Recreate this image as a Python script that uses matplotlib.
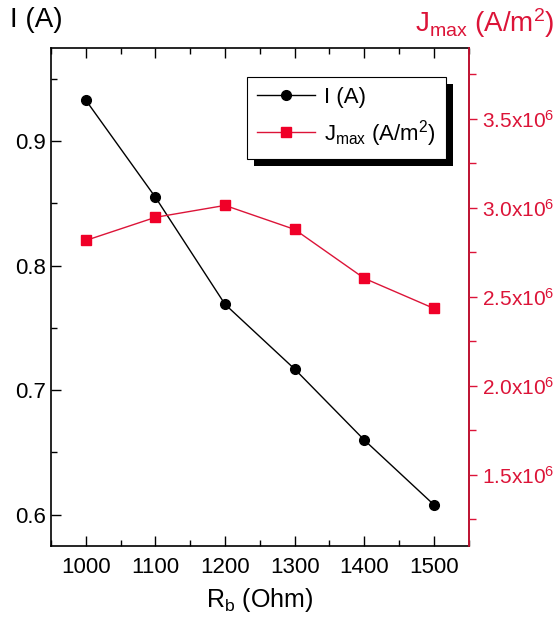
import matplotlib
matplotlib.use('Agg')
import matplotlib.pyplot as plt
from matplotlib.ticker import MultipleLocator, FuncFormatter
import matplotlib.patheffects as pe

plt.rcParams['font.family'] = ['Liberation Sans', 'DejaVu Sans']
plt.rcParams['mathtext.fontset'] = 'custom'
plt.rcParams['mathtext.rm'] = 'Liberation Sans'
plt.rcParams['mathtext.it'] = 'Liberation Sans'

rb = [1000, 1100, 1200, 1300, 1400, 1500]
current = [0.933, 0.855, 0.769, 0.717, 0.660, 0.608]
jmax = [2.817e6, 2.947e6, 3.014e6, 2.879e6, 2.604e6, 2.435e6]

red = '#dc1438'

fig = plt.figure(figsize=(5.6, 6.21), dpi=100)
ax = fig.add_axes([0.091, 0.121, 0.746, 0.802])
ax2 = ax.twinx()

l1, = ax.plot(rb, current, '-o', color='black', lw=1, ms=7, label='I (A)')
l2, = ax2.plot(rb, jmax, '-s', color=red, mfc='#f00028', mec='#f00028',
               lw=1, ms=6.5, label='J$_{\\mathrm{max}}$ (A/m$^2$)')

ax.set_xlim(950, 1550)
ax.set_ylim(0.575, 0.975)
ax2.set_ylim(1.1e6, 3.9e6)

ax.xaxis.set_major_locator(MultipleLocator(100))
ax.xaxis.set_minor_locator(MultipleLocator(50))
ax.yaxis.set_major_locator(MultipleLocator(0.1))
ax.yaxis.set_minor_locator(MultipleLocator(0.05))
ax2.yaxis.set_major_locator(MultipleLocator(0.5e6))
ax2.yaxis.set_minor_locator(MultipleLocator(0.25e6))
ax2.yaxis.set_major_formatter(FuncFormatter(lambda v, p: f'{v/1e6:.1f}x10$^6$'))

ax.tick_params(which='both', direction='in', top=True, labelsize=16, width=1)
ax.tick_params(which='major', length=7)
ax.tick_params(which='minor', length=4)
ax.tick_params(axis='x', pad=8)
ax2.tick_params(which='both', direction='out', colors=red, labelsize=15, width=1)
ax2.tick_params(which='major', length=6)
ax2.tick_params(which='minor', length=5)

for s in ax.spines.values():
    s.set_linewidth(1.2)
ax2.spines['right'].set_color(red)
ax2.spines['right'].set_linewidth(1.2)
ax2.spines['left'].set_visible(False)
ax2.spines['top'].set_visible(False)
ax2.spines['bottom'].set_visible(False)

ax.set_xlabel('R$_\\mathrm{b}$ (Ohm)', fontsize=18, labelpad=6)
fig.text(0.018, 0.967, 'I (A)', fontsize=20, ha='left', va='center')
fig.text(0.99, 0.963, 'J$_{\\mathrm{max}}$ (A/m$^2$)', fontsize=20, color=red,
         ha='right', va='center')

leg = ax2.legend([l1, l2], [l1.get_label(), l2.get_label()], loc='upper right',
                 bbox_to_anchor=(0.945, 0.942), borderaxespad=0, fontsize=16,
                 fancybox=False, edgecolor='black', framealpha=1,
                 handlelength=2.6, handletextpad=0.4, borderpad=0.45,
                 labelspacing=0.45)
leg.get_frame().set_linewidth(0.8)
leg.legendPatch.set_path_effects([
    pe.SimplePatchShadow(offset=(5, -5), shadow_rgbFace='black', alpha=1),
    pe.Normal()])

fig.savefig('out.png', dpi=100)
